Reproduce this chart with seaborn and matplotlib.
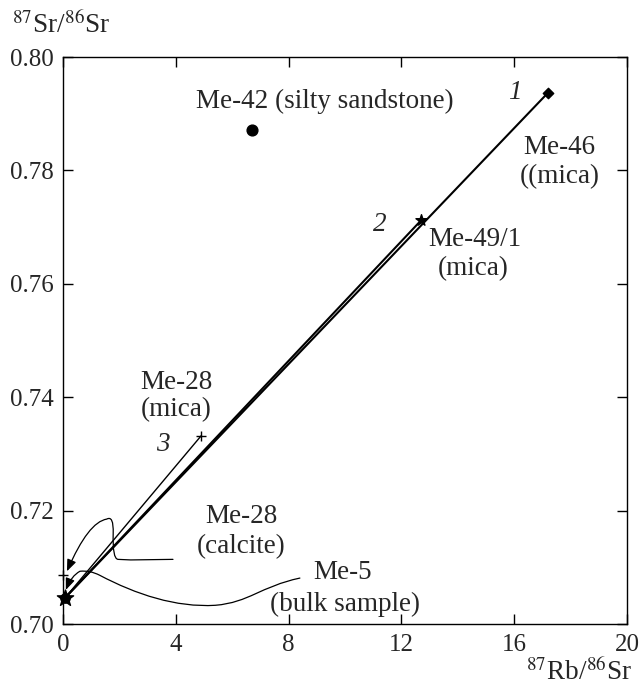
import numpy as np
import pandas as pd
import matplotlib
matplotlib.use("Agg")
import matplotlib.pyplot as plt
import seaborn as sns
from matplotlib.path import Path
from matplotlib.patches import FancyArrowPatch

# ---- data ----
samples = ["Me-46", "Me-49/1", "Me-28 mica", "Me-42", "Me-28 calcite", "Me-5"]
rb_sr = [17.2, 12.7, 4.9, 6.7, 0.0, 0.07]
sr_sr = [0.7937, 0.7712, 0.7332, 0.7872, 0.7086, 0.7046]
marker_kind = ["diamond", "star", "plus", "circle", "plus", "star"]

# isochrons: (label, from sample, to sample)
iso_labels = ["1", "2", "3"]
iso_from = ["Me-5", "Me-5", "Me-5"]
iso_to = ["Me-46", "Me-49/1", "Me-28 mica"]

x_ticks = [0, 4, 8, 12, 16, 20]
y_ticks = [0.70, 0.72, 0.74, 0.76, 0.78, 0.80]

df = pd.DataFrame({"sample": samples, "rb": rb_sr, "sr": sr_sr, "kind": marker_kind})

sns.set_style("ticks")
plt.rcParams["font.family"] = ["Liberation Serif", "DejaVu Serif"]
plt.rcParams["mathtext.fontset"] = "stix"
plt.rcParams["axes.linewidth"] = 1.0

fig = plt.figure(figsize=(6.42, 6.88), dpi=100)
ax = fig.add_axes([63/642, 1-624/688, 564/642, 567/688])

pos = df.set_index("sample")

# isochron lines
for lab, a, b in zip(iso_labels, iso_from, iso_to):
    seg = pd.DataFrame({"x": [pos.loc[a, "rb"], pos.loc[b, "rb"]],
                        "y": [pos.loc[a, "sr"], pos.loc[b, "sr"]]})
    lw = 1.0 if lab == "3" else 1.5
    sns.lineplot(data=seg, x="x", y="y", ax=ax, color="black", lw=lw,
                 sort=False, estimator=None)

# points
markers = {"diamond": "D", "star": "*", "plus": "+", "circle": "o"}
sizes = {"diamond": 28, "star": 70, "plus": 60, "circle": 60}
for kind in markers:
    sub = df[df["kind"] == kind]
    sns.scatterplot(data=sub, x="rb", y="sr", ax=ax, marker=markers[kind],
                    s=sizes[kind], color="black", edgecolor="black",
                    linewidth=1.0, zorder=5, clip_on=False)
# origin blob (several overlapping analyses)
b = pos.loc["Me-5"]
ax.scatter([b["rb"]], [b["sr"]], marker="*", s=150, color="black", zorder=6,
           clip_on=False)
ax.scatter([b["rb"]], [b["sr"]], marker="o", s=45, color="black", zorder=6,
           clip_on=False)

ax.set_xlim(0, 20)
ax.set_ylim(0.70, 0.80)
ax.set_xticks(x_ticks)
ax.set_xticklabels([str(v) for v in x_ticks])
ax.set_yticks(y_ticks)
ax.set_yticklabels([f"{v:.2f}" for v in y_ticks])
ax.tick_params(direction="in", length=7, width=1, top=True, right=True,
               labelsize=18, pad=7, color="black")
ax.set_xlabel("")
ax.set_ylabel("")
for sp in ax.spines.values():
    sp.set_visible(True)
    sp.set_color("black")

fs = 19.5
def t(x, y, s, **kw):
    ax.text(x, y, s, fontsize=fs, va="center", **kw)

# text labels
t(9.29, 0.7921, "Me-42 (silty sandstone)", ha="center")
t(16.03, 0.7937, "1", style="italic", ha="center")
t(17.59, 0.7840, "Me-46", ha="center")
t(17.62, 0.7789, "((mica)", ha="center")
t(11.24, 0.7704, "2", style="italic", ha="center")
t(14.61, 0.7678, "Me-49/1", ha="center")
t(14.55, 0.7627, "(mica)", ha="center")
t(4.01, 0.7426, "Me-28", ha="center")
t(4.01, 0.7378, "(mica)", ha="center")
t(3.55, 0.7317, "3", style="italic", ha="center")
t(6.31, 0.7190, "Me-28", ha="center")
t(6.31, 0.7136, "(calcite)", ha="center")
t(8.87, 0.7090, "Me-5", ha="left")
t(7.34, 0.7035, "(bulk sample)", ha="left")

# leader curves
calc_path = Path(
    [(3.9, 0.7114), (2.4, 0.7113), (1.95, 0.7114),
     (1.75, 0.7115), (1.78, 0.7160),
     (1.80, 0.7192), (1.55, 0.7185),
     (0.9, 0.7180), (0.14, 0.7093)],
    [Path.MOVETO, Path.LINETO, Path.LINETO,
     Path.CURVE3, Path.CURVE3,
     Path.CURVE3, Path.CURVE3,
     Path.CURVE3, Path.CURVE3])
ax.add_patch(FancyArrowPatch(path=calc_path, arrowstyle="-|>,head_length=7,head_width=2.8",
                             color="black", lw=0.9, zorder=4))

me5_path = Path(
    [(8.4, 0.7081),
     (7.0, 0.7066), (6.6, 0.7038), (5.4, 0.7033),
     (4.0, 0.7029), (2.6, 0.7052), (1.3, 0.7086),
     (0.95, 0.7095), (0.6, 0.7093),
     (0.3, 0.7085), (0.10, 0.7060)],
    [Path.MOVETO,
     Path.CURVE4, Path.CURVE4, Path.CURVE4,
     Path.CURVE4, Path.CURVE4, Path.CURVE4,
     Path.CURVE3, Path.CURVE3,
     Path.CURVE3, Path.CURVE3])
ax.add_patch(FancyArrowPatch(path=me5_path, arrowstyle="-|>,head_length=7,head_width=2.8",
                             color="black", lw=0.9, zorder=4))

# axis titles
fig.text(12/642, 1-25/688, r"$^{87}$Sr/$^{86}$Sr", fontsize=fs, ha="left", va="center")
fig.text(632/642, 1-672/688, r"$^{87}$Rb/$^{86}$Sr", fontsize=fs, ha="right", va="center")

fig.savefig("out.png", dpi=100)
